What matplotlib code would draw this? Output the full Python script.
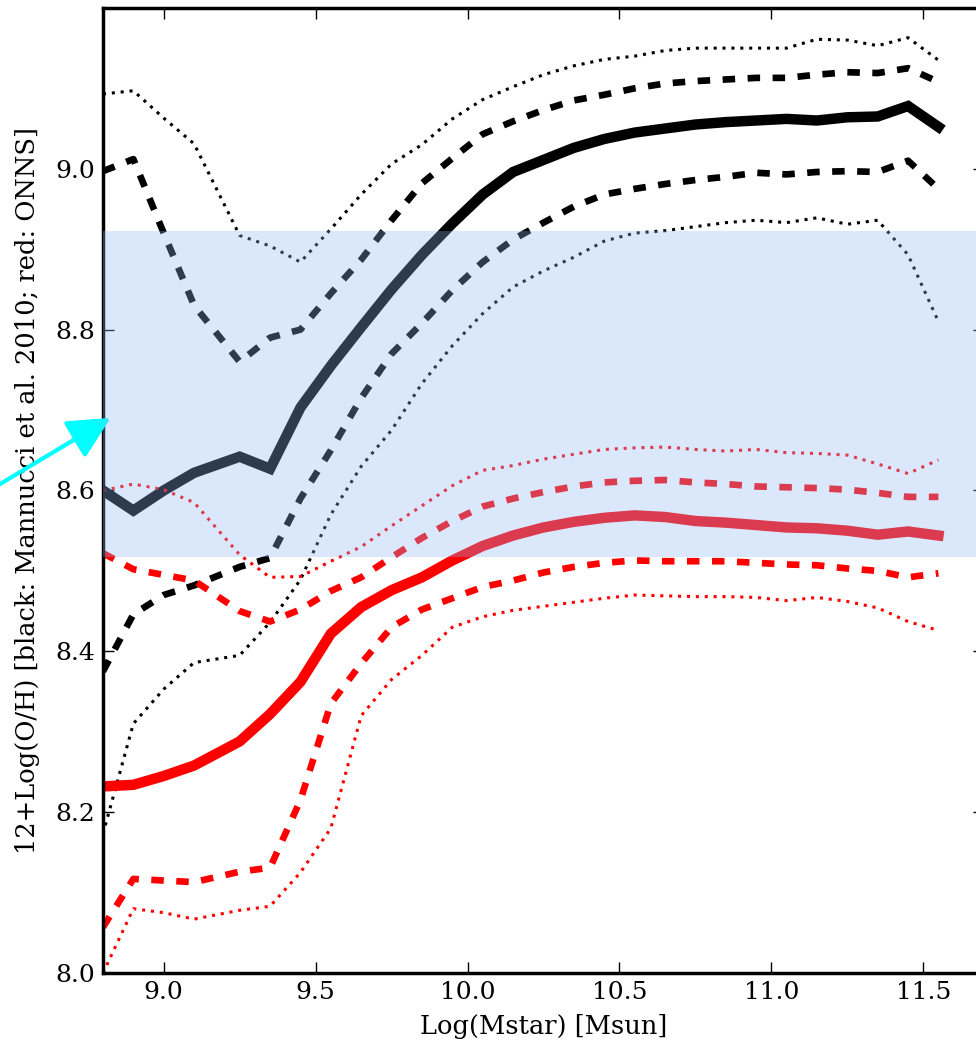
import matplotlib
matplotlib.use("Agg")
import matplotlib.pyplot as plt

plt.rcParams['font.family'] = ['DejaVu Serif']
plt.rcParams['lines.scale_dashes'] = False

# stellar mass bins
mstar = [8.80, 8.90, 9.00, 9.10, 9.25, 9.35, 9.45, 9.55, 9.65, 9.75,
         9.85, 9.95, 10.05, 10.15, 10.25, 10.35, 10.45, 10.55, 10.65, 10.75,
         10.85, 10.95, 11.05, 11.15, 11.25, 11.35, 11.45, 11.55]

# Mannucci et al. 2010 (black): median, quartiles, 10/90 percentiles
mann_med = [8.600, 8.575, 8.600, 8.622, 8.642, 8.627, 8.703, 8.755, 8.803, 8.850,
            8.893, 8.932, 8.968, 8.996, 9.011, 9.026, 9.037, 9.045, 9.050, 9.055,
            9.058, 9.060, 9.062, 9.060, 9.064, 9.065, 9.078, 9.052]
mann_q75 = [8.997, 9.012, 8.920, 8.830, 8.760, 8.790, 8.800, 8.845, 8.887, 8.936,
            8.982, 9.013, 9.043, 9.059, 9.073, 9.085, 9.092, 9.100, 9.106, 9.109,
            9.111, 9.113, 9.113, 9.117, 9.120, 9.119, 9.125, 9.108]
mann_q25 = [8.375, 8.446, 8.470, 8.482, 8.505, 8.516, 8.590, 8.650, 8.715, 8.770,
            8.808, 8.849, 8.884, 8.912, 8.933, 8.953, 8.968, 8.975, 8.981, 8.986,
            8.990, 8.995, 8.993, 8.996, 8.997, 8.996, 9.010, 8.975]
mann_p90 = [9.093, 9.097, 9.063, 9.031, 8.917, 8.904, 8.884, 8.925, 8.968, 9.006,
            9.030, 9.062, 9.086, 9.102, 9.117, 9.128, 9.136, 9.140, 9.147, 9.150,
            9.150, 9.150, 9.150, 9.161, 9.160, 9.153, 9.163, 9.135]
mann_p10 = [8.173, 8.310, 8.353, 8.386, 8.395, 8.436, 8.489, 8.570, 8.630, 8.675,
            8.733, 8.780, 8.820, 8.853, 8.873, 8.890, 8.910, 8.920, 8.923, 8.928,
            8.933, 8.936, 8.933, 8.939, 8.931, 8.936, 8.893, 8.810]

# ONNS (red)
onns_med = [8.232, 8.234, 8.245, 8.258, 8.288, 8.322, 8.362, 8.422, 8.455, 8.476,
            8.492, 8.513, 8.531, 8.544, 8.554, 8.561, 8.566, 8.569, 8.567, 8.562,
            8.560, 8.557, 8.554, 8.553, 8.550, 8.545, 8.549, 8.544]
onns_q75 = [8.522, 8.502, 8.495, 8.488, 8.450, 8.437, 8.452, 8.475, 8.492, 8.517,
            8.541, 8.562, 8.580, 8.590, 8.598, 8.605, 8.610, 8.612, 8.613, 8.610,
            8.608, 8.605, 8.604, 8.603, 8.601, 8.597, 8.592, 8.592]
onns_q25 = [8.057, 8.117, 8.115, 8.113, 8.126, 8.131, 8.215, 8.335, 8.385, 8.430,
            8.452, 8.466, 8.480, 8.488, 8.498, 8.505, 8.510, 8.513, 8.512, 8.512,
            8.512, 8.510, 8.508, 8.507, 8.503, 8.500, 8.492, 8.497]
onns_p90 = [8.600, 8.608, 8.601, 8.585, 8.520, 8.492, 8.493, 8.512, 8.530, 8.556,
            8.581, 8.606, 8.625, 8.631, 8.639, 8.645, 8.651, 8.653, 8.654, 8.651,
            8.649, 8.651, 8.647, 8.646, 8.644, 8.633, 8.621, 8.638]
onns_p10 = [8.000, 8.080, 8.075, 8.067, 8.078, 8.083, 8.125, 8.180, 8.320, 8.365,
            8.395, 8.430, 8.443, 8.451, 8.456, 8.461, 8.466, 8.470, 8.469, 8.468,
            8.468, 8.467, 8.463, 8.467, 8.462, 8.454, 8.437, 8.426]

band_lo, band_hi = 8.517, 8.922

fig = plt.figure(figsize=(9.76, 10.4), dpi=100)
ax = fig.add_axes([0.1055, 0.0644, 0.9027, 0.928])

dash = (0, (9, 9))
dot = (0, (2.2, 4.2))
for col, med, q75, q25, p90, p10 in [('k', mann_med, mann_q75, mann_q25, mann_p90, mann_p10),
                                      ('r', onns_med, onns_q75, onns_q25, onns_p90, onns_p10)]:
    ax.plot(mstar, med, color=col, lw=7.5, solid_joinstyle='miter')
    ax.plot(mstar, q75, color=col, lw=4.8, linestyle=dash)
    ax.plot(mstar, q25, color=col, lw=4.8, linestyle=dash)
    ax.plot(mstar, p90, color=col, lw=2.2, linestyle=dot)
    ax.plot(mstar, p10, color=col, lw=2.2, linestyle=dot)

ax.axhspan(band_lo, band_hi, color=(145/255, 185/255, 246/255), alpha=0.32, lw=0, zorder=5)

ax.annotate('', xy=(8.833, 8.692), xytext=(8.395, 8.593),
            xycoords='data', textcoords='data', annotation_clip=False,
            arrowprops=dict(arrowstyle='-|>,head_length=1.3,head_width=0.65',
                            color='cyan', lw=3, mutation_scale=20))

ax.set_xlim(8.8, 11.7)
ax.set_ylim(8.0, 9.2)
ax.set_xticks([9.0, 9.5, 10.0, 10.5, 11.0, 11.5])
ax.set_yticks([8.0, 8.2, 8.4, 8.6, 8.8, 9.0])
ax.tick_params(direction='in', length=8, width=1, top=True, right=True, labelsize=18, pad=6)
for s in ax.spines.values():
    s.set_linewidth(2.5)

ax.set_xlabel('Log(Mstar) [Msun]', fontsize=18.5)
ax.xaxis.set_label_coords(0.5, -0.042)
ax.set_ylabel('12+Log(O/H) [black: Mannucci et al. 2010; red: ONNS]', fontsize=18.5)
ax.yaxis.set_label_coords(-0.072, 0.5)

fig.savefig('out.png', dpi=100)
